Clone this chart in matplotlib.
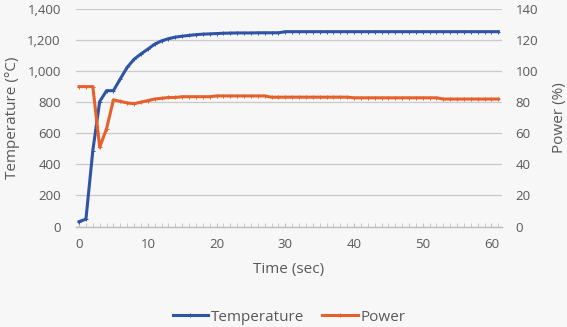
import matplotlib
matplotlib.use('Agg')
import matplotlib.pyplot as plt
from matplotlib.ticker import MultipleLocator, FuncFormatter

# time in seconds, one reading per second
time_sec = list(range(62))
temperature = [32, 48, 489, 804, 874, 874, 950, 1024, 1076, 1110,
               1141, 1173, 1194, 1208, 1218, 1224, 1229, 1234, 1237, 1239,
               1241, 1243, 1244, 1245, 1245, 1245, 1246, 1246, 1246, 1246] + [1253] * 32
power = [90, 90, 90, 51, 63, 81.5, 80.5, 79.5, 79, 80,
         81, 82, 82.5, 83, 83, 83.5, 83.5, 83.5, 83.5, 83.5] + [84] * 8 + [83.2] * 12 + [82.8] * 13 + [82] * 9

blue = '#2E54A6'
orange = '#E5602A'
bg = '#F7F7F7'
txt = '#595959'
grid_col = '#C9C9C9'

plt.rcParams['font.family'] = ['Open Sans', 'DejaVu Sans']

fig = plt.figure(figsize=(5.67, 3.27), dpi=100, facecolor=bg)
ax = fig.add_axes([0.134, 0.307, 0.751, 0.666], facecolor=bg)
ax2 = ax.twinx()

l1, = ax.plot(time_sec, temperature, color=blue, lw=2.2, marker='+', ms=2.5, mew=0.7, zorder=3)
l2, = ax2.plot(time_sec, power, color=orange, lw=2.2, marker='+', ms=2.5, mew=0.7, zorder=3)

ax.set_xlim(-0.45, 61.5)
ax.set_ylim(0, 1400)
ax2.set_ylim(0, 140)
ax.yaxis.set_major_locator(MultipleLocator(200))
ax2.yaxis.set_major_locator(MultipleLocator(20))
ax.xaxis.set_major_locator(MultipleLocator(10))
ax.xaxis.set_minor_locator(MultipleLocator(1))
ax.yaxis.set_major_formatter(FuncFormatter(lambda v, p: f'{int(v):,}'))

ax.grid(axis='y', color=grid_col, lw=0.9)
ax.set_axisbelow(True)
for a in (ax, ax2):
  for s in ('top', 'left', 'right'):
    a.spines[s].set_visible(False)
  a.spines['bottom'].set_color('#BFBFBF')
  a.spines['bottom'].set_linewidth(0.9)

ax.tick_params(axis='y', length=0, pad=11, labelsize=9.5, labelcolor=txt)
ax2.tick_params(axis='y', length=0, pad=10, labelsize=9.5, labelcolor=txt)
ax.tick_params(axis='x', which='major', direction='in', length=3, color='#BFBFBF', pad=8, labelsize=9.5, labelcolor=txt)
ax.tick_params(axis='x', which='minor', direction='in', length=3, color='#BFBFBF')

ax.set_ylabel('Temperature (°C)', fontsize=11, color=txt, labelpad=5)
ax2.set_ylabel('Power (%)', fontsize=11, color=txt, labelpad=10)
ax.set_xlabel('Time (sec)', fontsize=11, color=txt, labelpad=8)

fig.legend([l1, l2], ['Temperature', 'Power'], loc='center', bbox_to_anchor=(0.51, 0.03),
           ncol=2, frameon=False, fontsize=11, labelcolor=txt, handlelength=2.3,
           handletextpad=0.2, columnspacing=1.2)

fig.savefig('out.png', dpi=100, facecolor=bg)
